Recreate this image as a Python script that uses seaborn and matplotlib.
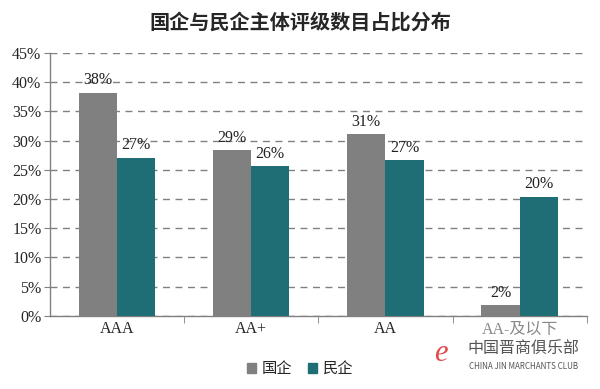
import numpy as np
import pandas as pd
import seaborn as sns
import matplotlib.pyplot as plt
from matplotlib.ticker import MultipleLocator, FuncFormatter

categories = ['AAA', 'AA+', 'AA', 'AA-及以下']
series_names = ['国企', '民企']
soe_values = [38.2, 28.4, 31.1, 1.9]
private_values = [27.1, 25.6, 26.7, 20.4]
soe_labels = ['38%', '29%', '31%', '2%']
private_labels = ['27%', '26%', '27%', '20%']

df = pd.DataFrame({
    'cat': categories * 2,
    'type': [series_names[0]] * 4 + [series_names[1]] * 4,
    'value': soe_values + private_values,
})

sns.set_style('white')
plt.rcParams['font.family'] = ['Noto Sans CJK SC', 'DejaVu Sans']

fig = plt.figure(figsize=(6, 3.89), dpi=100)
ax = fig.add_axes([0.083, 0.188, 0.895, 0.676])

palette = {'国企': '#808080', '民企': '#1F6E75'}
sns.barplot(data=df, x='cat', y='value', hue='type', palette=palette,
            width=0.57, saturation=1, ax=ax, legend=False, zorder=3, linewidth=0)

ax.set_ylim(0, 45)
ax.set_xlim(-0.5, 3.5)
ax.yaxis.set_major_locator(MultipleLocator(5))
ax.yaxis.set_major_formatter(FuncFormatter(lambda v, p: f'{v:.0f}%'))
ax.grid(axis='y', linestyle=(0, (5, 4)), color='#808080', linewidth=1, zorder=0)
ax.set_xlabel('')
ax.set_ylabel('')

for s in ['top', 'right']:
    ax.spines[s].set_visible(False)
for s in ['left', 'bottom']:
    ax.spines[s].set_color('#808080')
    ax.spines[s].set_linewidth(1)

serif = ['Liberation Serif', 'Noto Sans CJK SC']
ax.tick_params(axis='y', direction='out', length=4, color='#808080', left=True,
               labelsize=11.5, pad=2)
for t in ax.get_yticklabels():
    t.set_family(serif)

# category labels with ticks between groups
ax.set_xticks(range(len(categories)))
ax.set_xticklabels(categories, family=serif, fontsize=11.5)
ax.tick_params(axis='x', length=0, pad=4)
ax.xaxis.get_ticklabels()[3].set_color('#888888')
ax.set_xticks([0.5, 1.5, 2.5, 3.5], minor=True)
ax.tick_params(axis='x', which='minor', direction='out', length=5, color='#808080', bottom=True)

for cont, labs in zip(ax.containers, [soe_labels, private_labels]):
    ax.bar_label(cont, labels=labs, padding=3, fontsize=11.5, family=serif, color='#222222')

fig.suptitle('国企与民企主体评级数目占比分布', fontsize=14.5, fontweight='bold', y=0.97)

handles = [plt.Rectangle((0, 0), 1, 1, color=palette[n]) for n in series_names]
fig.legend(handles, series_names, loc='lower center', bbox_to_anchor=(0.5, -0.005),
           ncol=2, frameon=False, fontsize=11, handlelength=0.6, handleheight=0.6,
           columnspacing=1.0, handletextpad=0.4)

# watermark
fig.text(0.735, 0.092, 'e', fontsize=22, color='#e24a4a', family='Liberation Serif',
         style='italic', ha='center', va='center')
fig.text(0.872, 0.105, '中国晋商俱乐部', fontsize=11.5, color='#555555', ha='center', va='center')
fig.text(0.872, 0.057, 'CHINA JIN MARCHANTS CLUB', fontsize=5.8, color='#555555', ha='center', va='center')

fig.savefig('out.png', dpi=100)
